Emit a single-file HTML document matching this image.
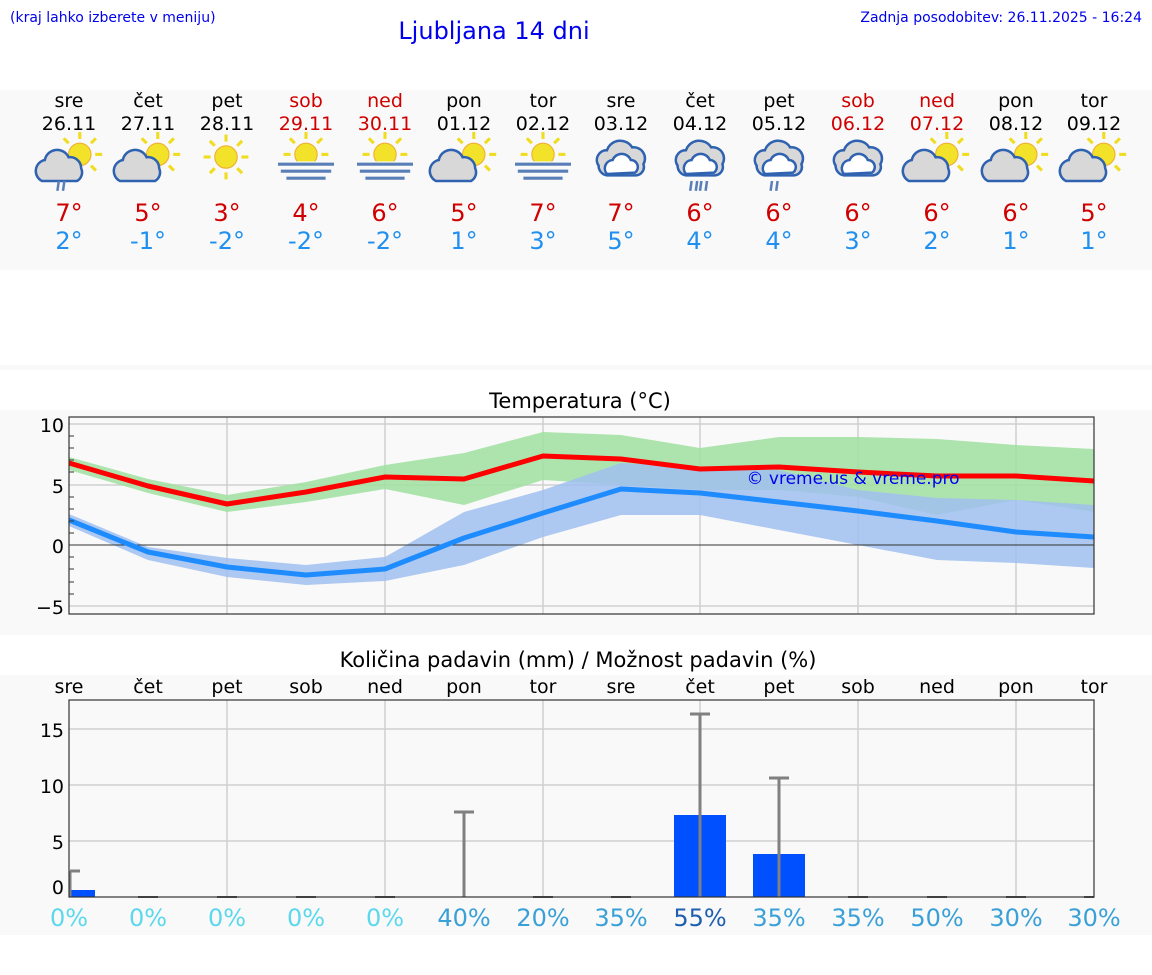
<!DOCTYPE html>
<html><head><meta charset="utf-8"><style>
body{margin:0;width:1152px;height:975px;background:#fff;font-family:"DejaVu Sans","Liberation Sans",sans-serif;overflow:hidden}
svg{position:absolute;left:0;top:0}
</style></head><body>
<svg width="1152" height="975" viewBox="0 0 1152 975" font-family="DejaVu Sans, Liberation Sans, sans-serif">
<defs>
<g id="sun"><g stroke="#f0dc20" stroke-width="2.2"><line x1="0" y1="-16" x2="0" y2="-11"/><line x1="0" y1="16" x2="0" y2="11"/><line x1="-16" y1="0" x2="-11" y2="0"/><line x1="16" y1="0" x2="11" y2="0"/><line x1="-11.5" y1="-11.5" x2="-8" y2="-8"/><line x1="11.5" y1="11.5" x2="8" y2="8"/><line x1="11.5" y1="-11.5" x2="8" y2="-8"/><line x1="-11.5" y1="11.5" x2="-8" y2="8"/></g><circle r="8" fill="#f2e22a" stroke="#f0b030" stroke-width="0.8"/></g>
<g id="cloud"><path d="M-14,8 a8,8 0 0 1 2,-15 a9,9 0 0 1 17,-2 a8,8 0 0 1 9,8 a7,7 0 0 1 -3,9 z" fill="#d8d8d8" stroke="#2f62b0" stroke-width="1.8"/></g>
<g id="cloud2"><path d="M-16,4 a7,7 0 0 1 6,-11 a10,10 0 0 1 18,-2 a8,8 0 0 1 8,12 a6,6 0 0 1 -6,8 h-20 a7,7 0 0 1 -6,-7z" fill="#d8d8d8" stroke="#2f62b0" stroke-width="1.8"/><path d="M-10,10 a6,6 0 0 1 4,-10 a7,7 0 0 1 13,0 a5,5 0 0 1 3,9 z" fill="#fff" stroke="#2f62b0" stroke-width="1.8"/></g>
<g id="fog" stroke="#5a7fb8" stroke-width="2.2"><line x1="-20" y1="3" x2="20" y2="3"/><line x1="-18" y1="8" x2="18" y2="8"/><line x1="-14" y1="13" x2="14" y2="13"/></g>
<g id="sc"><use href="#sun" x="7" y="-4"/><use href="#cloud" x="-6" y="7"/></g>
<g id="sf"><use href="#sun" x="0" y="-4"/><rect x="-20" y="1" width="40" height="14" fill="#f9f9f9"/><use href="#fog"/></g>
<g id="r2" stroke="#5a7fb8" stroke-width="1.8"><line x1="-3" y1="0" x2="-4" y2="7"/><line x1="1" y1="0" x2="0" y2="7"/></g>
</defs>
<text x="10" y="22" font-size="14" fill="#0000ee">(kraj lahko izberete v meniju)</text>
<text x="494" y="39" font-size="24" fill="#0000ee" text-anchor="middle">Ljubljana 14 dni</text>
<text x="1142" y="22" font-size="14" fill="#0000ee" text-anchor="end">Zadnja posodobitev: 26.11.2025 - 16:24</text>
<rect x="0" y="90" width="1152" height="180" fill="#f9f9f9"/>
<rect x="0" y="365" width="1152" height="5" fill="#f9f9f9"/>
<rect x="0" y="410" width="1152" height="225" fill="#f9f9f9"/>
<rect x="0" y="675" width="1152" height="260" fill="#f9f9f9"/>
<g font-size="19" text-anchor="middle">
<g fill="#000"><text x="69" y="107">sre</text><text x="69" y="130">26.11</text><text x="148" y="107">čet</text><text x="148" y="130">27.11</text><text x="227" y="107">pet</text><text x="227" y="130">28.11</text>
<text x="464" y="107">pon</text><text x="464" y="130">01.12</text><text x="543" y="107">tor</text><text x="543" y="130">02.12</text><text x="621" y="107">sre</text><text x="621" y="130">03.12</text><text x="700" y="107">čet</text><text x="700" y="130">04.12</text><text x="779" y="107">pet</text><text x="779" y="130">05.12</text><text x="1016" y="107">pon</text><text x="1016" y="130">08.12</text><text x="1094" y="107">tor</text><text x="1094" y="130">09.12</text></g>
<g fill="#d00000"><text x="306" y="107">sob</text><text x="306" y="130">29.11</text><text x="385" y="107">ned</text><text x="385" y="130">30.11</text><text x="858" y="107">sob</text><text x="858" y="130">06.12</text><text x="937" y="107">ned</text><text x="937" y="130">07.12</text></g>
</g>
<g transform="translate(70,160) scale(1.4)"><use href="#sc"/><use href="#r2" x="-5" y="15"/></g>
<g transform="translate(148,160) scale(1.4)"><use href="#sc"/></g>
<g transform="translate(226,157) scale(1.4)"><use href="#sun"/></g>
<g transform="translate(306,160) scale(1.4)"><use href="#sf"/></g>
<g transform="translate(385,160) scale(1.4)"><use href="#sf"/></g>
<g transform="translate(464,160) scale(1.4)"><use href="#sc"/></g>
<g transform="translate(543,160) scale(1.4)"><use href="#sf"/></g>
<g transform="translate(621,160) scale(1.4)"><use href="#cloud2"/></g>
<g transform="translate(700,160) scale(1.4)"><use href="#cloud2"/><use href="#r2" x="-3" y="15"/><use href="#r2" x="4" y="15"/></g>
<g transform="translate(779,160) scale(1.4)"><use href="#cloud2"/><use href="#r2" x="-2" y="15"/></g>
<g transform="translate(858,160) scale(1.4)"><use href="#cloud2"/></g>
<g transform="translate(937,160) scale(1.4)"><use href="#sc"/></g>
<g transform="translate(1016,160) scale(1.4)"><use href="#sc"/></g>
<g transform="translate(1094,160) scale(1.4)"><use href="#sc"/></g>
<g font-size="24" text-anchor="middle" fill="#d00000">
<text x="69" y="221">7°</text><text x="148" y="221">5°</text><text x="227" y="221">3°</text><text x="306" y="221">4°</text><text x="385" y="221">6°</text><text x="464" y="221">5°</text><text x="543" y="221">7°</text><text x="621" y="221">7°</text><text x="700" y="221">6°</text><text x="779" y="221">6°</text><text x="858" y="221">6°</text><text x="937" y="221">6°</text><text x="1016" y="221">6°</text><text x="1094" y="221">5°</text></g>
<g font-size="24" text-anchor="middle" fill="#2090f0">
<text x="69" y="249">2°</text><text x="148" y="249">-1°</text><text x="227" y="249">-2°</text><text x="306" y="249">-2°</text><text x="385" y="249">-2°</text><text x="464" y="249">1°</text><text x="543" y="249">3°</text><text x="621" y="249">5°</text><text x="700" y="249">4°</text><text x="779" y="249">4°</text><text x="858" y="249">3°</text><text x="937" y="249">2°</text><text x="1016" y="249">1°</text><text x="1094" y="249">1°</text></g>

<text x="580" y="408" font-size="21" text-anchor="middle">Temperatura (°C)</text>
<g stroke="#d0d0d0" stroke-width="1.5">
<line x1="69" y1="424" x2="1094" y2="424"/><line x1="69" y1="485" x2="1094" y2="485"/><line x1="69" y1="606" x2="1094" y2="606"/>
<line x1="227" y1="417" x2="227" y2="614"/><line x1="385" y1="417" x2="385" y2="614"/><line x1="543" y1="417" x2="543" y2="614"/><line x1="700" y1="417" x2="700" y2="614"/><line x1="858" y1="417" x2="858" y2="614"/><line x1="1016" y1="417" x2="1016" y2="614"/></g>
<polygon fill="#a0e0a0" opacity="0.85" points="69,457 148,479 227,495 306,482 385,465 464,453 543,432 621,435 700,448 779,437 858,437 937,439 1016,445 1094,449 1094,512 1016,500 937,515 858,497 779,490 700,490 621,485 543,480 464,505 385,489 306,502 227,512 148,493 69,470"/>
<polygon fill="#a0bff0" opacity="0.85" points="69,514 148,547 227,558 306,565 385,557 464,512 543,490 621,463 700,467 779,470 858,490 937,498 1016,500 1094,505 1094,568 1016,563 937,560 858,545 779,530 700,515 621,515 543,537 464,565 385,581 306,585 227,577 148,560 69,526"/>
<line x1="69" y1="545" x2="1094" y2="545" stroke="#333" stroke-width="1"/>
<polyline fill="none" stroke="#ff0000" stroke-width="5" stroke-linejoin="round" points="69,463 148,486 227,504 306,492 385,477 464,479 543,456 621,459 700,469 779,467 858,472 937,476 1016,476 1094,481"/>
<polyline fill="none" stroke="#1e8cff" stroke-width="5" stroke-linejoin="round" points="69,520 148,552 227,567 306,575 385,569 464,538 543,513 621,489 700,493 779,502 858,511 937,521 1016,532 1094,537"/>
<text x="853" y="484" font-size="17" fill="#0000ee" text-anchor="middle">© vreme.us &amp; vreme.pro</text>
<rect x="69" y="417" width="1025" height="197" fill="none" stroke="#333" stroke-width="1.2"/>
<g stroke="#333" stroke-width="1"><line x1="69" y1="436" x2="74" y2="436"/><line x1="69" y1="448" x2="74" y2="448"/><line x1="69" y1="460" x2="74" y2="460"/><line x1="69" y1="472" x2="74" y2="472"/><line x1="69" y1="497" x2="74" y2="497"/><line x1="69" y1="509" x2="74" y2="509"/><line x1="69" y1="521" x2="74" y2="521"/><line x1="69" y1="533" x2="74" y2="533"/><line x1="69" y1="557" x2="74" y2="557"/><line x1="69" y1="569" x2="74" y2="569"/><line x1="69" y1="582" x2="74" y2="582"/><line x1="69" y1="594" x2="74" y2="594"/></g>
<g font-size="19" text-anchor="end"><text x="64" y="432">10</text><text x="64" y="493">5</text><text x="64" y="553">0</text><text x="64" y="614">−5</text></g>

<text x="578" y="667" font-size="21" text-anchor="middle">Količina padavin (mm) / Možnost padavin (%)</text>
<g font-size="19" text-anchor="middle"><text x="69" y="693">sre</text><text x="148" y="693">čet</text><text x="227" y="693">pet</text><text x="306" y="693">sob</text><text x="385" y="693">ned</text><text x="464" y="693">pon</text><text x="543" y="693">tor</text><text x="621" y="693">sre</text><text x="700" y="693">čet</text><text x="779" y="693">pet</text><text x="858" y="693">sob</text><text x="937" y="693">ned</text><text x="1016" y="693">pon</text><text x="1094" y="693">tor</text></g>
<g stroke="#d0d0d0" stroke-width="1.5">
<line x1="69" y1="729" x2="1094" y2="729"/><line x1="69" y1="785" x2="1094" y2="785"/><line x1="69" y1="841" x2="1094" y2="841"/>
<line x1="227" y1="700" x2="227" y2="897"/><line x1="385" y1="700" x2="385" y2="897"/><line x1="543" y1="700" x2="543" y2="897"/><line x1="700" y1="700" x2="700" y2="897"/><line x1="858" y1="700" x2="858" y2="897"/><line x1="1016" y1="700" x2="1016" y2="897"/></g>
<g fill="#0050ff"><rect x="69" y="890" width="26" height="7"/><rect x="674" y="815" width="52" height="82"/><rect x="753" y="854" width="52" height="43"/></g>
<g stroke="#808080" stroke-width="3"><line x1="70" y1="871" x2="70" y2="897"/><line x1="70" y1="871" x2="80" y2="871"/>
<line x1="464" y1="812" x2="464" y2="897"/><line x1="454" y1="812" x2="474" y2="812"/>
<line x1="700" y1="714" x2="700" y2="897"/><line x1="690" y1="714" x2="710" y2="714"/>
<line x1="779" y1="778" x2="779" y2="897"/><line x1="769" y1="778" x2="789" y2="778"/></g>
<g stroke="#555" stroke-width="2"><line x1="138" y1="897" x2="158" y2="897"/><line x1="217" y1="897" x2="237" y2="897"/><line x1="296" y1="897" x2="316" y2="897"/><line x1="375" y1="897" x2="395" y2="897"/><line x1="533" y1="897" x2="553" y2="897"/><line x1="611" y1="897" x2="631" y2="897"/><line x1="848" y1="897" x2="868" y2="897"/><line x1="927" y1="897" x2="947" y2="897"/><line x1="1006" y1="897" x2="1026" y2="897"/><line x1="1084" y1="897" x2="1094" y2="897"/></g>
<rect x="69" y="700" width="1025" height="197" fill="none" stroke="#333" stroke-width="1.2"/>
<g font-size="19" text-anchor="end"><text x="64" y="737">15</text><text x="64" y="793">10</text><text x="64" y="849">5</text><text x="64" y="894">0</text></g>
<g font-size="24" text-anchor="middle">
<g fill="#5cd8ec"><text x="69" y="926">0%</text><text x="148" y="926">0%</text><text x="227" y="926">0%</text><text x="306" y="926">0%</text><text x="385" y="926">0%</text></g>
<g fill="#3aa0d8"><text x="464" y="926">40%</text><text x="543" y="926">20%</text><text x="621" y="926">35%</text><text x="779" y="926">35%</text><text x="858" y="926">35%</text><text x="937" y="926">50%</text><text x="1016" y="926">30%</text><text x="1094" y="926">30%</text></g>
<text x="700" y="926" fill="#1e5fb0">55%</text></g>
</svg>
</body></html>
